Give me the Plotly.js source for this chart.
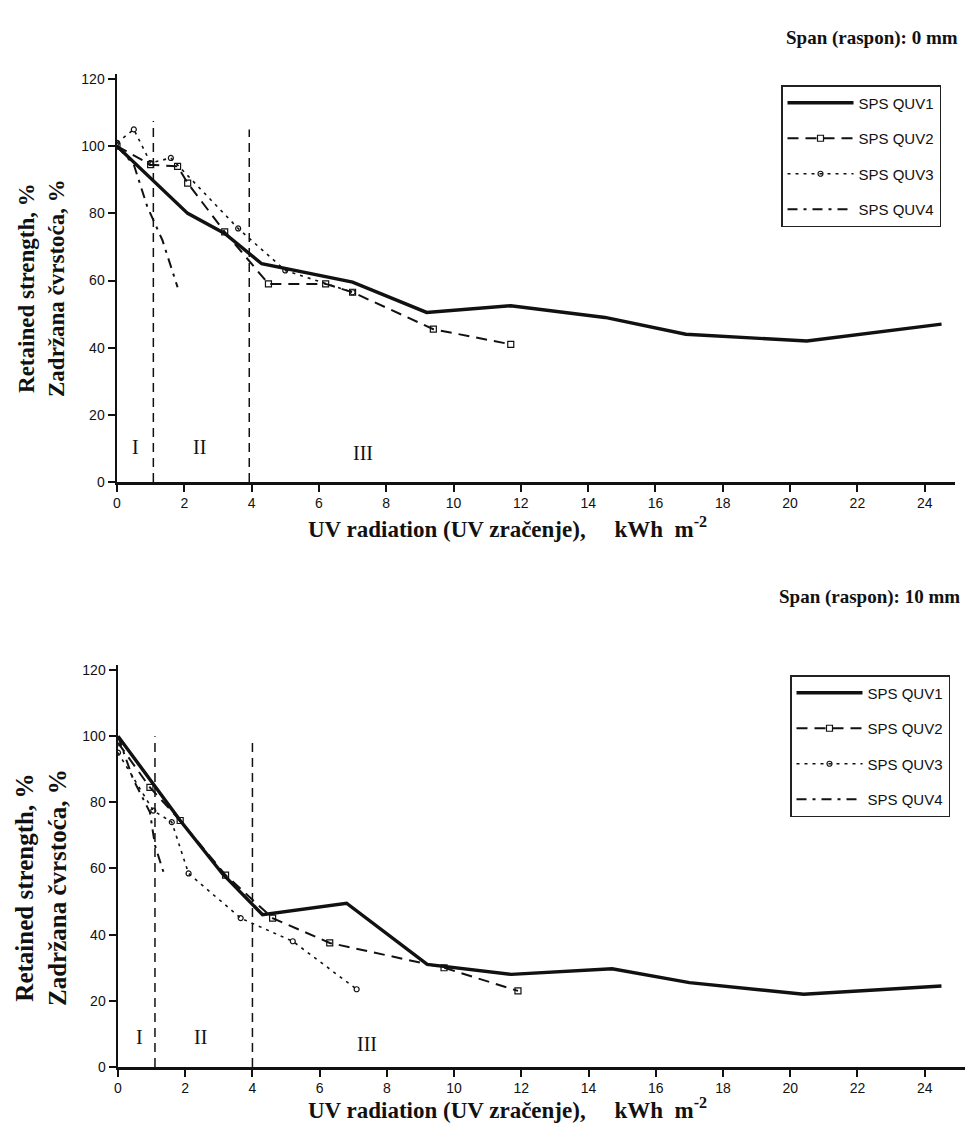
<!DOCTYPE html>
<html>
<head>
<meta charset="utf-8">
<script src="https://cdn.plot.ly/plotly-3.0.1.min.js"></script>
<style>html,body{margin:0;padding:0;background:#fff;}</style>
</head>
<body>
<div id="chart" style="width:978px;height:1144px;"></div>
<script>
// ---- Data ----
const seriesNames = ['SPS QUV1', 'SPS QUV2', 'SPS QUV3', 'SPS QUV4'];
const panelTitles = ['Span (raspon): 0 mm', 'Span (raspon): 10 mm'];
const regionLabels = ['I', 'II', 'III'];

// Span 0 mm
const top1X = [0, 2.1, 3.2, 4.3, 7.0, 9.2, 11.7, 14.5, 16.9, 20.5, 24.5];
const top1Y = [100, 80, 74, 65, 59.5, 50.5, 52.5, 49, 44, 42, 47];
const top2X = [0, 1.0, 1.8, 2.1, 3.2, 4.5, 6.2, 7.0, 9.4, 11.7];
const top2Y = [100, 94.5, 94, 89, 74.5, 59, 59, 56.5, 45.5, 41];
const top3X = [0, 0.5, 1.0, 1.6, 3.6, 5.0, 7.0];
const top3Y = [101, 105, 95, 96.5, 75.5, 63, 56.5];
const top4X = [0, 0.5, 0.9, 1.35, 1.8];
const top4Y = [100, 94.5, 82, 72, 58];

// Span 10 mm
const bot1X = [0, 1.85, 3.1, 4.3, 6.8, 9.2, 11.7, 14.7, 17.0, 20.4, 24.5];
const bot1Y = [100, 74.5, 58.5, 46, 49.5, 31, 28, 29.7, 25.5, 22, 24.5];
const bot2X = [0, 0.95, 1.85, 3.2, 4.6, 6.3, 9.7, 11.9];
const bot2Y = [98, 84.5, 74.5, 58, 45, 37.5, 30, 23];
const bot3X = [0, 1.05, 1.6, 2.1, 3.65, 5.2, 7.1];
const bot3Y = [95, 77.5, 74, 58.5, 45, 38, 23.5];
const bot4X = [0, 0.45, 0.95, 1.1, 1.35];
const bot4Y = [100, 87, 77, 67, 59];

// Region boundaries (x position, top y)
const topBoundX = [1.08, 3.93];
const topBoundTop = [107.5, 105];
const botBoundX = [1.1, 4.0];
const botBoundTop = [100, 99];

// ---- Styles ----
const INK = '#111';
const styles = [
  {line: {color: INK, width: 3.4, dash: 'solid'}, mode: 'lines'},
  {line: {color: INK, width: 2, dash: '11px,7px'}, mode: 'lines+markers',
   marker: {symbol: 'square-open', size: 6, color: INK, line: {width: 1.2, color: INK}}},
  {line: {color: INK, width: 1.6, dash: '3px,5px'}, mode: 'lines+markers',
   marker: {symbol: 'circle-open', size: 5, color: INK, line: {width: 1.2, color: INK}}},
  {line: {color: INK, width: 2, dash: '10px,6px,3px,6px'}, mode: 'lines'}
];

function mk(xs, ys, i, xa, ya, leg) {
  return Object.assign({
    x: xs, y: ys, name: seriesNames[i], type: 'scatter',
    xaxis: xa, yaxis: ya, legend: leg, legendgroup: leg + i, showlegend: true
  }, JSON.parse(JSON.stringify(styles[i])));
}

const data = [
  mk(top1X, top1Y, 0, 'x', 'y', 'legend'),
  mk(top2X, top2Y, 1, 'x', 'y', 'legend'),
  mk(top3X, top3Y, 2, 'x', 'y', 'legend'),
  mk(top4X, top4Y, 3, 'x', 'y', 'legend'),
  mk(bot1X, bot1Y, 0, 'x2', 'y2', 'legend2'),
  mk(bot2X, bot2Y, 1, 'x2', 'y2', 'legend2'),
  mk(bot3X, bot3Y, 2, 'x2', 'y2', 'legend2'),
  mk(bot4X, bot4Y, 3, 'x2', 'y2', 'legend2')
];

const W = 978, H = 1144;
const px = v => v / W;
const py = v => 1 - v / H;

function axisBase() {
  return {
    showline: true, linewidth: 2.5, linecolor: INK,
    ticks: 'outside', ticklen: 7, tickwidth: 2, tickcolor: INK,
    showgrid: false, zeroline: false, fixedrange: true,
    tickfont: {family: 'Liberation Sans, Arial, sans-serif', size: 14, color: INK}
  };
}

const serif = 'Liberation Serif, Times New Roman, serif';
const sp = '\u00A0';

const shapes = [];
topBoundX.forEach((x, i) => shapes.push({type: 'line', xref: 'x', yref: 'y', x0: x, x1: x, y0: 0, y1: topBoundTop[i],
  line: {color: INK, width: 1.5, dash: '9px,6px'}}));
botBoundX.forEach((x, i) => shapes.push({type: 'line', xref: 'x2', yref: 'y2', x0: x, x1: x, y0: 0, y1: botBoundTop[i],
  line: {color: INK, width: 1.5, dash: '9px,6px'}}));

const regTopX = [0.55, 2.45, 7.3], regTopY = [10.5, 10.5, 8.5];
const regBotX = [0.65, 2.45, 7.4], regBotY = [9, 9, 7];

const annotations = [];
regionLabels.forEach((t, i) => {
  annotations.push({xref: 'x', yref: 'y', x: regTopX[i], y: regTopY[i], text: t, showarrow: false,
    font: {family: serif, size: 20, color: INK}});
  annotations.push({xref: 'x2', yref: 'y2', x: regBotX[i], y: regBotY[i], text: t, showarrow: false,
    font: {family: serif, size: 20, color: INK}});
});
annotations.push({xref: 'paper', yref: 'paper', x: px(960), y: py(38), xanchor: 'right', yanchor: 'middle',
  text: '<b>' + panelTitles[0] + '</b>', showarrow: false, font: {family: serif, size: 19, color: INK}});
annotations.push({xref: 'paper', yref: 'paper', x: px(962), y: py(597), xanchor: 'right', yanchor: 'middle',
  text: '<b>' + panelTitles[1] + '</b>', showarrow: false, font: {family: serif, size: 19, color: INK}});
const xTitle = '<b>UV radiation (UV zračenje),' + sp + sp + sp + sp + ' kWh' + sp + sp + 'm<sup>-2</sup></b>';
annotations.push({xref: 'paper', yref: 'paper', x: px(507), y: py(527), xanchor: 'center', yanchor: 'middle',
  text: xTitle, showarrow: false, font: {family: serif, size: 23, color: INK}});
annotations.push({xref: 'paper', yref: 'paper', x: px(507), y: py(1108), xanchor: 'center', yanchor: 'middle',
  text: xTitle, showarrow: false, font: {family: serif, size: 23, color: INK}});
const yTitle = '<b>Retained strength, %<br>Zadržana čvrstoća, %</b>';
annotations.push({xref: 'paper', yref: 'paper', x: px(41), y: py(288), xanchor: 'center', yanchor: 'middle',
  textangle: -90, text: yTitle, showarrow: false, font: {family: serif, size: 23, color: INK}});
annotations.push({xref: 'paper', yref: 'paper', x: px(41), y: py(888), xanchor: 'center', yanchor: 'middle',
  textangle: -90, text: yTitle, showarrow: false, font: {family: serif, size: 25, color: INK}});

function legendBase(x, y) {
  return {
    x: px(x), y: py(y), xanchor: 'left', yanchor: 'top',
    bordercolor: '#222', borderwidth: 1.5, bgcolor: '#fff',
    font: {family: 'Liberation Sans, Arial, sans-serif', size: 15, color: INK},
    tracegroupgap: 13, itemwidth: 66, traceorder: 'grouped'
  };
}

const layout = {
  width: W, height: H,
  margin: {l: 0, r: 0, t: 0, b: 0},
  paper_bgcolor: '#fff', plot_bgcolor: '#fff',
  showlegend: true,
  xaxis: Object.assign(axisBase(), {domain: [px(117), px(955)], range: [0, 24.9], tick0: 0, dtick: 2, anchor: 'y'}),
  yaxis: Object.assign(axisBase(), {domain: [py(482), py(74)], range: [0, 121.5], tick0: 0, dtick: 20, anchor: 'x'}),
  xaxis2: Object.assign(axisBase(), {domain: [px(118), px(965)], range: [0, 25.2], tick0: 0, dtick: 2, anchor: 'y2'}),
  yaxis2: Object.assign(axisBase(), {domain: [py(1067), py(665)], range: [0, 121.5], tick0: 0, dtick: 20, anchor: 'x2'}),
  legend: legendBase(781, 85),
  legend2: legendBase(790, 675),
  shapes: shapes,
  annotations: annotations
};

Plotly.newPlot('chart', data, layout, {displayModeBar: false, staticPlot: true});
</script>
</body>
</html>
